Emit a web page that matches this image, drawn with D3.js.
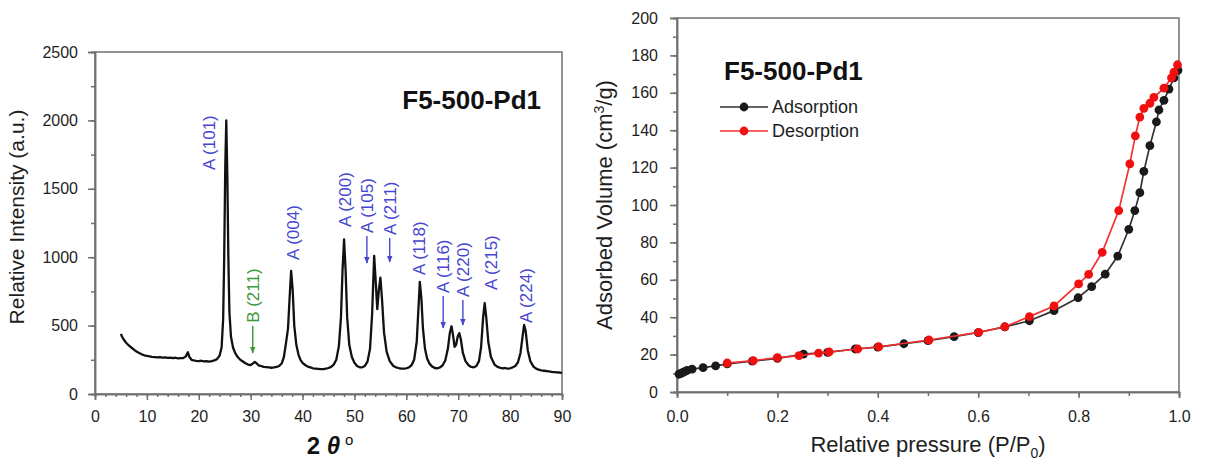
<!DOCTYPE html>
<html>
<head>
<meta charset="utf-8">
<script src="https://cdn.jsdelivr.net/npm/d3@7"></script>
<style>
  body { margin: 0; background: #fff; }
  text { font-family: Arial, "Liberation Sans", sans-serif; }
</style>
</head>
<body>
<svg id="fig" width="1214" height="469"></svg>
<script>
// ---- XRD pattern (left) ----
var xrdTheta = [5.0,5.2,5.5,6.0,6.5,7.0,7.5,8.0,8.5,9.0,9.5,10.0,10.5,11.0,11.5,12.0,12.5,13.0,13.5,14.0,14.5,15.0,15.5,16.0,16.5,17.0,17.5,17.9,18.2,18.6,19.0,19.5,20.0,20.5,21.0,21.5,22.0,22.5,23.0,23.5,24.0,24.4,24.7,24.9,25.1,25.3,25.5,25.7,25.9,26.2,26.6,27.0,27.5,28.0,28.5,29.0,29.5,30.0,30.4,30.8,31.2,31.6,32.0,32.5,33.0,33.5,34.0,34.5,35.0,35.5,36.0,36.4,36.8,37.2,37.5,37.8,38.1,38.4,38.8,39.2,39.6,40.0,40.5,41.0,41.5,42.0,42.5,43.0,43.5,44.0,44.5,45.0,45.5,46.0,46.5,47.0,47.4,47.7,48.0,48.3,48.6,49.0,49.5,50.0,50.5,51.0,51.5,52.0,52.5,53.0,53.4,53.8,54.1,54.4,54.7,55.0,55.3,55.7,56.2,56.8,57.5,58.0,58.5,59.0,59.5,60.0,60.5,61.0,61.5,62.0,62.3,62.6,62.9,63.2,63.6,64.0,64.5,65.0,65.5,66.0,66.5,67.0,67.5,68.0,68.4,68.7,69.0,69.3,69.6,69.9,70.2,70.5,70.9,71.4,72.0,72.5,73.0,73.5,74.0,74.4,74.8,75.1,75.4,75.8,76.3,77.0,77.5,78.0,78.5,79.0,79.5,80.0,80.5,81.0,81.5,82.0,82.4,82.7,83.0,83.4,83.9,84.5,85.0,85.5,86.0,86.5,87.0,87.5,88.0,88.5,89.0,89.5,90.0];
var xrdIntensity = [440,420,400,375,355,340,325,310,300,290,283,278,275,272,270,268,270,266,268,264,266,262,265,260,262,262,275,305,270,250,245,242,240,243,238,240,236,240,245,255,280,340,550,1000,1650,2000,1600,1000,600,420,340,300,270,250,238,225,215,212,222,235,222,208,205,198,196,194,192,194,198,205,225,270,370,480,700,900,760,500,360,290,250,228,212,200,195,188,186,184,182,182,185,190,198,215,250,350,560,900,1130,900,560,360,270,228,205,195,195,205,235,330,580,1010,820,620,760,850,700,450,310,240,205,195,190,186,185,188,195,210,250,380,600,820,700,480,330,260,220,200,190,188,195,210,245,330,450,495,430,345,360,420,445,400,300,240,210,198,195,205,240,340,560,665,560,380,270,215,200,192,188,190,185,188,195,205,230,300,420,505,460,320,240,200,185,178,172,170,168,165,162,160,158,157,155];

var peakLabels = ["A (101)","B (211)","A (004)","A (200)","A (105)","A (211)","A (118)","A (116)","A (220)","A (215)","A (224)"];
var peakLabelTheta = [21.9, 30.4, 38.1, 48.1, 52.4, 56.8, 62.4, 67.1, 70.9, 76.3, 83.1];
var peakLabelBase = [1637, 520, 980, 1221, 1177, 1162, 870, 738, 709, 760, 519];
var peakArrowTip = [null, 300, null, null, 957, 965, null, 482, 504, null, null];
var peakLabelColor = ["#4646d2","#3a9a3a","#4646d2","#4646d2","#4646d2","#4646d2","#4646d2","#4646d2","#4646d2","#4646d2","#4646d2"];

var xrdThetaTicks = [0,10,20,30,40,50,60,70,80,90];
var xrdIntensityTicks = [0,500,1000,1500,2000,2500];

// ---- N2 isotherm (right) ----
var adsP = [0.004,0.008,0.012,0.016,0.02,0.03,0.052,0.077,0.1,0.15,0.2,0.252,0.3,0.355,0.4,0.452,0.5,0.552,0.6,0.653,0.702,0.751,0.799,0.826,0.853,0.878,0.9,0.912,0.922,0.93,0.942,0.955,0.96,0.97,0.98,0.99,0.998];
var adsV = [9.5,10,10.5,11,11.5,12.2,13,14,15,16.5,18,20.3,21.2,23,24,25.8,27.5,29.6,31.8,34.8,38.1,43.5,50.4,56.3,63,72.7,87,97,106.6,118,131.7,144.5,150.8,156,162,168,172];
var desP = [0.997,0.99,0.985,0.97,0.95,0.942,0.93,0.922,0.913,0.902,0.88,0.847,0.82,0.8,0.751,0.702,0.653,0.601,0.502,0.402,0.36,0.303,0.282,0.243,0.2,0.152,0.1];
var desV = [175,171,168,162.5,157.6,154.4,151.7,147,137,122,97,74.7,62.9,57.8,46,40.3,34.9,31.9,27.8,24.2,23,21.4,20.8,19.4,18.4,16.8,15.5];

var pressureTicks = [0,0.2,0.4,0.6,0.8,1.0];
var volumeTicks = [0,20,40,60,80,100,120,140,160,180,200];

var svg = d3.select("#fig");
var axisColor = "#707070";
var textColor = "#1e1e1e";

function styleAxis(g) {
    g.selectAll("path, line").attr("stroke", axisColor).attr("stroke-width", 1.5);
    g.selectAll("text").style("font-size", "16px").style("fill", textColor);
}

// ===== left panel =====
var xL = d3.scaleLinear().domain([0, 90]).range([95, 562]);
var yL = d3.scaleLinear().domain([0, 2500]).range([394, 52]);

svg.append("g")
    .attr("transform", "translate(0," + yL(0) + ")")
    .call(d3.axisBottom(xL).tickValues(d3.range(0, 91, 2)).tickSize(3).tickFormat(""))
    .call(styleAxis);
svg.append("g")
    .attr("transform", "translate(0," + yL(0) + ")")
    .call(d3.axisBottom(xL).tickValues(xrdThetaTicks).tickSize(6).tickPadding(11).tickFormat(d3.format("d")))
    .call(styleAxis);
svg.append("g")
    .attr("transform", "translate(" + xL(0) + ",0)")
    .call(d3.axisLeft(yL).tickValues(d3.range(0, 2501, 250)).tickSize(4).tickFormat(""))
    .call(styleAxis);
svg.append("g")
    .attr("transform", "translate(" + xL(0) + ",0)")
    .call(d3.axisLeft(yL).tickValues(xrdIntensityTicks).tickSize(7).tickPadding(10).tickFormat(d3.format("d")))
    .call(styleAxis);
svg.append("rect")
    .attr("x", xL(0)).attr("y", yL(2500))
    .attr("width", xL(90) - xL(0)).attr("height", yL(0) - yL(2500))
    .attr("fill", "none").attr("stroke", axisColor).attr("stroke-width", 1.5);

var xrd = xrdTheta.map(function(t, i) { return {t: t, v: xrdIntensity[i]}; });
svg.append("path")
    .attr("d", d3.line().x(function(d) { return xL(d.t); }).y(function(d) { return yL(d.v); })(xrd))
    .attr("fill", "none")
    .attr("stroke", "#111")
    .attr("stroke-width", 2.3)
    .attr("stroke-linejoin", "round");

var defs = svg.append("defs");
["#4646d2", "#3a9a3a"].forEach(function(c, k) {
    defs.append("marker")
        .attr("id", "arr" + k)
        .attr("viewBox", "0 0 10 10").attr("refX", 9).attr("refY", 5)
        .attr("markerWidth", 5).attr("markerHeight", 5)
        .attr("orient", "auto")
        .append("path").attr("d", "M0,1L10,5L0,9Z").attr("fill", c);
});

peakLabels.forEach(function(lab, i) {
    var px = xL(peakLabelTheta[i]), py = yL(peakLabelBase[i]);
    var col = peakLabelColor[i];
    svg.append("text")
        .attr("transform", "translate(" + px + "," + py + ") rotate(-90)")
        .attr("dy", "0.36em")
        .style("font-size", "17px")
        .style("fill", col)
        .text(lab);
    if (peakArrowTip[i] !== null) {
        svg.append("line")
            .attr("x1", px).attr("x2", px)
            .attr("y1", py + 3).attr("y2", yL(peakArrowTip[i]))
            .attr("stroke", col).attr("stroke-width", 1.4)
            .attr("marker-end", "url(#arr" + (col === "#3a9a3a" ? 1 : 0) + ")");
    }
});

svg.append("text")
    .attr("x", 541).attr("y", 109)
    .attr("text-anchor", "end")
    .style("font-size", "26px").style("font-weight", "bold")
    .style("fill", "#111")
    .text("F5-500-Pd1");

svg.append("text")
    .attr("transform", "translate(24,217) rotate(-90)")
    .attr("text-anchor", "middle")
    .style("font-size", "21px")
    .style("fill", textColor)
    .text("Relative Intensity (a.u.)");

var xt = svg.append("text")
    .attr("x", 330).attr("y", 454)
    .attr("text-anchor", "middle")
    .style("font-size", "24px").style("font-weight", "bold")
    .style("fill", "#111");
xt.append("tspan").text("2 ");
xt.append("tspan").style("font-style", "italic").text("θ");
xt.append("tspan").attr("dx", 5).attr("dy", -9).style("font-size", "15px").style("font-weight", "normal").text("o");

// ===== right panel =====
var xR = d3.scaleLinear().domain([0, 1]).range([677, 1179]);
var yR = d3.scaleLinear().domain([0, 200]).range([392, 18]);

svg.append("g")
    .attr("transform", "translate(0," + yR(0) + ")")
    .call(d3.axisBottom(xR).tickValues(d3.range(0, 11).map(function(k) { return k / 10; })).tickSize(4).tickFormat(""))
    .call(styleAxis);
svg.append("g")
    .attr("transform", "translate(0," + yR(0) + ")")
    .call(d3.axisBottom(xR).tickValues(pressureTicks).tickSize(6).tickPadding(13).tickFormat(d3.format(".1f")))
    .call(styleAxis);
svg.append("g")
    .attr("transform", "translate(" + xR(0) + ",0)")
    .call(d3.axisLeft(yR).tickValues(d3.range(0, 201, 10)).tickSize(4).tickFormat(""))
    .call(styleAxis);
svg.append("g")
    .attr("transform", "translate(" + xR(0) + ",0)")
    .call(d3.axisLeft(yR).tickValues(volumeTicks).tickSize(7).tickPadding(12).tickFormat(d3.format("d")))
    .call(styleAxis);
svg.append("rect")
    .attr("x", xR(0)).attr("y", yR(200))
    .attr("width", xR(1) - xR(0)).attr("height", yR(0) - yR(200))
    .attr("fill", "none").attr("stroke", axisColor).attr("stroke-width", 1.5);

var isoLine = d3.line().x(function(d) { return xR(d.p); }).y(function(d) { return yR(d.v); });
var series = [
    {name: "Adsorption", color: "#1a1a1a", line: "#333", pts: adsP.map(function(p, i) { return {p: p, v: adsV[i]}; })},
    {name: "Desorption", color: "#f01010", line: "#f23030", pts: desP.map(function(p, i) { return {p: p, v: desV[i]}; })}
];
series.forEach(function(s) {
    svg.append("path")
        .attr("d", isoLine(s.pts))
        .attr("fill", "none").attr("stroke", s.line).attr("stroke-width", 1.7);
    svg.append("g").selectAll("circle")
        .data(s.pts).enter().append("circle")
        .attr("cx", function(d) { return xR(d.p); })
        .attr("cy", function(d) { return yR(d.v); })
        .attr("r", 4.4)
        .attr("fill", s.color);
});

svg.append("text")
    .attr("x", 724).attr("y", 80)
    .style("font-size", "26px").style("font-weight", "bold")
    .style("fill", "#111")
    .text("F5-500-Pd1");

series.forEach(function(s, i) {
    var ly = 107 + i * 24;
    svg.append("line").attr("x1", 720).attr("x2", 768).attr("y1", ly).attr("y2", ly)
        .attr("stroke", s.line).attr("stroke-width", 1.7);
    svg.append("circle").attr("cx", 744).attr("cy", ly).attr("r", 4.4).attr("fill", s.color);
    svg.append("text").attr("x", 772).attr("y", ly).attr("dy", "0.35em")
        .style("font-size", "18px").style("fill", textColor).text(s.name);
});

var yt = svg.append("text")
    .attr("transform", "translate(612,205) rotate(-90)")
    .attr("text-anchor", "middle")
    .style("font-size", "22px")
    .style("fill", textColor);
yt.append("tspan").text("Adsorbed Volume (cm");
yt.append("tspan").attr("dy", -8).style("font-size", "14px").text("3");
yt.append("tspan").attr("dy", 8).text("/g)");

var xt2 = svg.append("text")
    .attr("x", 928).attr("y", 452)
    .attr("text-anchor", "middle")
    .style("font-size", "22px")
    .style("fill", textColor);
xt2.append("tspan").text("Relative pressure (P/P");
xt2.append("tspan").attr("dy", 6).style("font-size", "14px").text("0");
xt2.append("tspan").attr("dy", -6).text(")");
</script>
</body>
</html>
